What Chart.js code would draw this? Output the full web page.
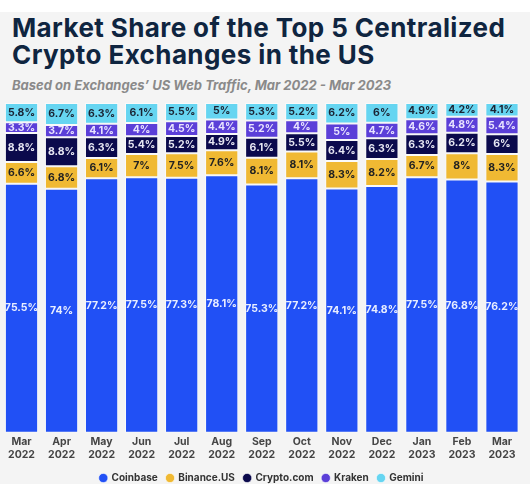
<!DOCTYPE html>
<html>
<head>
<meta charset="utf-8">
<script src="https://cdn.jsdelivr.net/npm/chart.js@4.4.1/dist/chart.umd.min.js"></script>
<style>
  html, body { margin: 0; padding: 0; background: #ffffff; width: 530px; height: 499px; overflow: hidden; }
  #bg { position: absolute; left: 0; top: 12px; width: 530px; height: 472px; background: #f4f4f4; }
  #title { position: absolute; left: 12px; top: 14px; font: 700 26px Inter, "Open Sans", sans-serif; line-height: 27px; color: #0f2540; white-space: nowrap; letter-spacing: 0.4px; }
  #sub { position: absolute; left: 12px; top: 78px; font: italic 700 13px Inter, "Open Sans", sans-serif; line-height: 15px; color: #8a8a8a; white-space: nowrap; }
  #wrap { position: absolute; left: 0; top: 95px; width: 530px; height: 404px; }
</style>
</head>
<body>
<div id="bg"></div>
<div id="title">Market Share of the Top 5 Centralized<br>Crypto Exchanges in the US</div>
<div id="sub">Based on Exchanges’ US Web Traffic, Mar 2022 - Mar 2023</div>
<div id="wrap"><canvas id="c"></canvas></div>
<script>
const months = [['Mar','2022'],['Apr','2022'],['May','2022'],['Jun','2022'],['Jul','2022'],['Aug','2022'],['Sep','2022'],['Oct','2022'],['Nov','2022'],['Dec','2022'],['Jan','2023'],['Feb','2023'],['Mar','2023']];
const coinbase  = [75.5, 74, 77.2, 77.5, 77.3, 78.1, 75.3, 77.2, 74.1, 74.8, 77.5, 76.8, 76.2];
const binanceUS = [6.6, 6.8, 6.1, 7, 7.5, 7.6, 8.1, 8.1, 8.3, 8.2, 6.7, 8, 8.3];
const cryptoCom = [8.8, 8.8, 6.3, 5.4, 5.2, 4.9, 6.1, 5.5, 6.4, 6.3, 6.3, 6.2, 6];
const kraken    = [3.3, 3.7, 4.1, 4, 4.5, 4.4, 5.2, 4, 5, 4.7, 4.6, 4.8, 5.4];
const gemini    = [5.8, 6.7, 6.3, 6.1, 5.5, 5, 5.3, 5.2, 6.2, 6, 4.9, 4.2, 4.1];

const seriesNames = ['Coinbase', 'Binance.US', 'Crypto.com', 'Kraken', 'Gemini'];
const seriesData = [coinbase, binanceUS, cryptoCom, kraken, gemini];
const seriesColors = ['#2150f5', '#f0b933', '#0b0a4c', '#5b3fd8', '#66d5f1'];
const labelColors = ['#e9eeff', '#222222', '#e6e6f2', '#e8e2ff', '#1b2433'];

const FONT = 'Inter, "Open Sans", sans-serif';

const valueLabels = {
  id: 'valueLabels',
  afterDatasetsDraw(chart) {
    const ctx = chart.ctx;
    ctx.save();
    ctx.font = '700 10.5px ' + FONT;
    ctx.textAlign = 'center';
    ctx.textBaseline = 'middle';
    chart.data.datasets.forEach((ds, i) => {
      const meta = chart.getDatasetMeta(i);
      ctx.fillStyle = labelColors[i];
      meta.data.forEach((el, j) => {
        const y = (el.y + el.base) / 2;
        ctx.fillText(ds.data[j] + '%', el.x, y);
      });
    });
    ctx.restore();
  }
};

new Chart(document.getElementById('c'), {
  type: 'bar',
  data: {
    labels: months,
    datasets: seriesNames.map((n, i) => ({
      label: n,
      data: seriesData[i],
      backgroundColor: seriesColors[i],
      borderColor: 'rgba(255,255,255,0.55)',
      borderWidth: 1,
      borderSkipped: false,
      categoryPercentage: 1,
      barPercentage: 0.83
    }))
  },
  options: {
    responsive: true,
    maintainAspectRatio: false,
    animation: false,
    layout: { padding: { left: 1.5, right: 8, top: 8, bottom: 6 } },
    scales: {
      x: {
        stacked: true,
        grid: { display: false, drawTicks: false },
        border: { display: false },
        ticks: { color: '#454545', font: { family: FONT, size: 10.5, weight: '700', lineHeight: 1.2 }, padding: 3, maxRotation: 0, autoSkip: false }
      },
      y: { stacked: true, display: false, min: 0, max: 100 }
    },
    plugins: {
      title: { display: false },
      tooltip: { enabled: false },
      legend: {
        position: 'bottom',
        labels: {
          usePointStyle: true,
          pointStyle: 'circle',
          boxWidth: 6.5,
          boxHeight: 6.5,
          padding: 9,
          color: '#333333',
          font: { family: FONT, size: 10, weight: '700' }
        }
      }
    }
  },
  plugins: [valueLabels]
});
</script>
</body>
</html>
